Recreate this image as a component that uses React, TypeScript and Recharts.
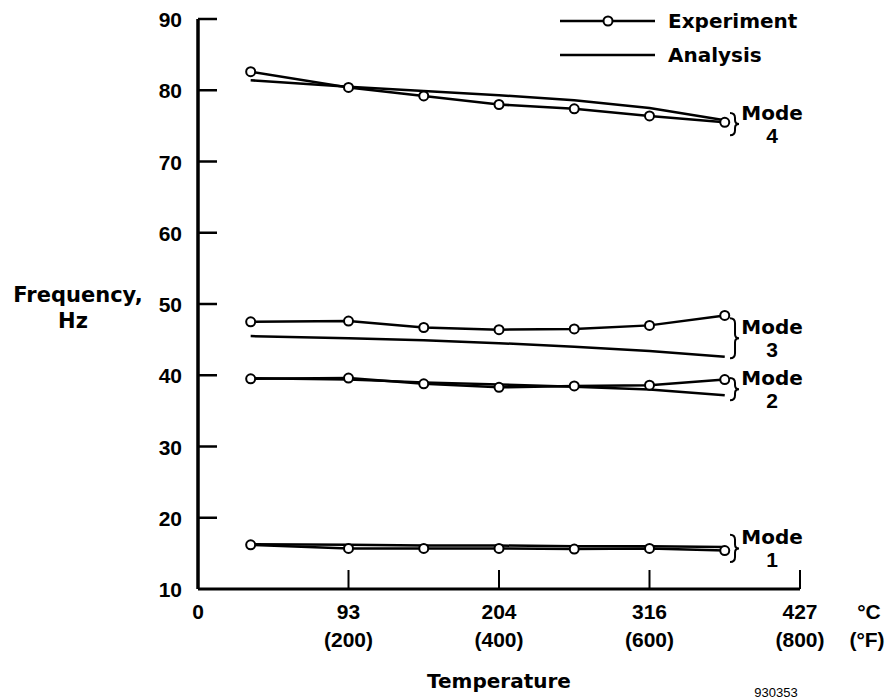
import React from "react";
import {
  LineChart,
  Line,
  XAxis,
  YAxis,
  ReferenceArea,
  Customized,
} from "recharts";

// temperatures of the test points, °F
const tempF = [70, 200, 300, 400, 500, 600, 700];

// measured (experiment) frequencies, Hz
const mode1Exp = [16.2, 15.7, 15.7, 15.7, 15.6, 15.7, 15.4];
const mode2Exp = [39.5, 39.6, 38.8, 38.3, 38.5, 38.6, 39.4];
const mode3Exp = [47.5, 47.6, 46.7, 46.4, 46.5, 47.0, 48.4];
const mode4Exp = [82.6, 80.4, 79.2, 78.0, 77.4, 76.4, 75.5];

// analysis frequencies, Hz
const mode1Ana = [16.3, 16.2, 16.1, 16.1, 16.0, 16.0, 15.9];
const mode2Ana = [39.6, 39.4, 39.0, 38.7, 38.4, 38.0, 37.2];
const mode3Ana = [45.5, 45.2, 44.9, 44.5, 44.0, 43.4, 42.6];
const mode4Ana = [81.4, 80.5, 79.9, 79.3, 78.6, 77.5, 75.8];

// axis ticks
const xTicksF = [0, 200, 400, 600, 800];
const xTicksC = ["0", "93", "204", "316", "427"];
const yTicks = [10, 20, 30, 40, 50, 60, 70, 80, 90];

// brace ranges for mode labels (Hz)
const modeNames = ["4", "3", "2", "1"];
const modeTop = [76.8, 48.0, 39.6, 17.6];
const modeBottom = [73.7, 42.4, 36.5, 13.8];

const data = tempF.map((t, i) => ({
  t,
  e1: mode1Exp[i],
  e2: mode2Exp[i],
  e3: mode3Exp[i],
  e4: mode4Exp[i],
  a1: mode1Ana[i],
  a2: mode2Ana[i],
  a3: mode3Ana[i],
  a4: mode4Ana[i],
}));

const NUM_FONT = "'Liberation Sans', Arial, sans-serif";
const WORD_FONT = "'DejaVu Sans', 'Liberation Sans', sans-serif";

const YTick = (props: any) => {
  const { x, y, payload } = props;
  const v = payload.value;
  return (
    <g>
      <text
        x={x - 16}
        y={y + 8}
        textAnchor="end"
        fontFamily={NUM_FONT}
        fontWeight="bold"
        fontSize={21}
        fill="#000"
      >
        {v}
      </text>
      {v !== 10 && (
        <line x1={x} x2={x + 19} y1={y} y2={y} stroke="#000" strokeWidth={2.5} />
      )}
    </g>
  );
};

const XTick = (props: any) => {
  const { x, y, payload } = props;
  const v = payload.value;
  const i = xTicksF.indexOf(v);
  return (
    <g>
      {v !== 0 && (
        <line x1={x} x2={x} y1={y} y2={y - 19} stroke="#000" strokeWidth={2} />
      )}
      <text
        x={x}
        y={y + 30}
        textAnchor="middle"
        fontFamily={NUM_FONT}
        fontWeight="bold"
        fontSize={21}
        fill="#000"
      >
        {xTicksC[i]}
      </text>
      {v !== 0 && (
        <text
          x={x}
          y={y + 58}
          textAnchor="middle"
          fontFamily={NUM_FONT}
          fontWeight="bold"
          fontSize={21}
          fill="#000"
        >
          ({v})
        </text>
      )}
    </g>
  );
};

const braceShape = (name: string) => (props: any) => {
  const { x, y, height } = props;
  const h = height;
  const mid = y + h / 2;
  const d = `M${x},${y} Q${x + 5},${y} ${x + 5},${y + 5} L${x + 5},${mid - 4} Q${x + 5},${mid} ${x + 9},${mid} Q${x + 5},${mid} ${x + 5},${mid + 4} L${x + 5},${y + h - 5} Q${x + 5},${y + h} ${x},${y + h}`;
  return (
    <g>
      <path d={d} fill="none" stroke="#000" strokeWidth={2} />
      <text
        x={x + 42}
        y={mid - 4}
        textAnchor="middle"
        fontFamily={WORD_FONT}
        fontWeight="bold"
        fontSize={20}
        fill="#000"
      >
        Mode
      </text>
      <text
        x={x + 42}
        y={mid + 19}
        textAnchor="middle"
        fontFamily={NUM_FONT}
        fontWeight="bold"
        fontSize={21}
        fill="#000"
      >
        {name}
      </text>
    </g>
  );
};

const Labels = () => (
  <g fill="#000">
    {/* legend */}
    <line x1={560} x2={655} y1={21} y2={21} stroke="#000" strokeWidth={2.5} />
    <circle cx={608} cy={21} r={4.5} fill="#fff" stroke="#000" strokeWidth={2} />
    <text x={668} y={28} fontFamily={WORD_FONT} fontWeight="bold" fontSize={20}>
      Experiment
    </text>
    <line x1={560} x2={655} y1={55} y2={55} stroke="#000" strokeWidth={2.5} />
    <text x={668} y={62} fontFamily={WORD_FONT} fontWeight="bold" fontSize={20}>
      Analysis
    </text>

    {/* y axis title */}
    <text x={78} y={302} textAnchor="middle" fontFamily={WORD_FONT} fontWeight="bold" fontSize={21}>
      Frequency,
    </text>
    <text x={73} y={328} textAnchor="middle" fontFamily={WORD_FONT} fontWeight="bold" fontSize={21}>
      Hz
    </text>

    {/* unit column */}
    <text x={869} y={619} textAnchor="middle" fontFamily={NUM_FONT} fontWeight="bold" fontSize={21}>
      °C
    </text>
    <text x={867} y={647} textAnchor="middle" fontFamily={NUM_FONT} fontWeight="bold" fontSize={21}>
      (°F)
    </text>

    {/* x axis title */}
    <text x={499} y={688} textAnchor="middle" fontFamily={WORD_FONT} fontWeight="bold" fontSize={20}>
      Temperature
    </text>

    <text x={776} y={697} textAnchor="middle" fontFamily={NUM_FONT} fontSize={13}>
      930353
    </text>
  </g>
);

const expDot = { r: 4.5, fill: "#fff", stroke: "#000", strokeWidth: 2 };

export default function App() {
  return (
    <div style={{ position: "absolute", left: 0, top: 0, background: "#fff" }}>
      <LineChart
        width={891}
        height={700}
        data={data}
        margin={{ top: 19, right: 91, bottom: 110, left: 0 }}
      >
        <XAxis
          dataKey="t"
          type="number"
          domain={[0, 800]}
          ticks={xTicksF}
          interval={0}
          height={1}
          tickSize={0}
          tickMargin={0}
          tickLine={false}
          tick={<XTick />}
          axisLine={{ stroke: "#000", strokeWidth: 3 }}
        />
        <YAxis
          type="number"
          domain={[10, 90]}
          ticks={yTicks}
          interval={0}
          width={198}
          tickSize={0}
          tickMargin={0}
          tickLine={false}
          tick={<YTick />}
          axisLine={{ stroke: "#000", strokeWidth: 3.5 }}
        />

        {/* analysis */}
        {["a1", "a2", "a3", "a4"].map((k) => (
          <Line
            key={k}
            dataKey={k}
            type="linear"
            stroke="#000"
            strokeWidth={2.5}
            dot={false}
            isAnimationActive={false}
          />
        ))}

        {/* experiment */}
        {["e1", "e2", "e3", "e4"].map((k) => (
          <Line
            key={k}
            dataKey={k}
            type="linear"
            stroke="#000"
            strokeWidth={2.5}
            dot={expDot}
            isAnimationActive={false}
          />
        ))}

        {modeNames.map((n, i) => (
          <ReferenceArea
            key={n}
            x1={707}
            x2={709}
            y1={modeBottom[i]}
            y2={modeTop[i]}
            ifOverflow="visible"
            shape={braceShape(n)}
          />
        ))}

        <Customized component={Labels} />
      </LineChart>
    </div>
  );
}
